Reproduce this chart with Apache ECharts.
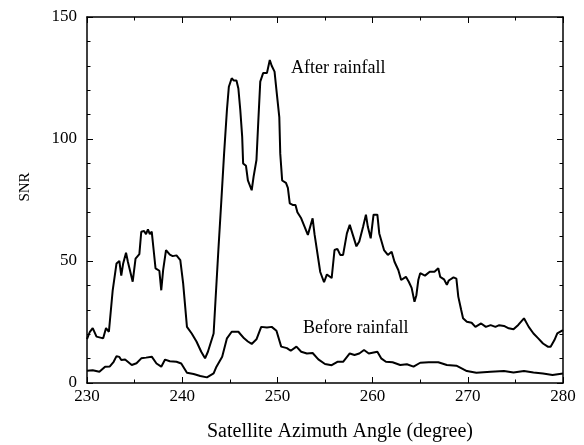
<!DOCTYPE html>
<html>
<head>
<meta charset="utf-8">
<script src="https://cdn.jsdelivr.net/npm/echarts@6/dist/echarts.min.js"></script>
<style>html,body{margin:0;padding:0;background:#fff}#c{width:584px;height:445px}</style>
</head>
<body>
<div id="c"></div>
<script>
const xTicks = [230, 240, 250, 260, 270, 280];
const yTicks = [0, 50, 100, 150];

const afterX = [230.0,230.3,230.6,231.0,231.7,232.0,232.3,232.7,233.1,233.4,233.6,233.8,234.1,234.3,234.8,235.1,235.5,235.7,236.0,236.2,236.4,236.6,236.8,237.0,237.2,237.6,237.8,238.0,238.3,238.4,238.7,239.0,239.4,239.8,240.1,240.5,241.0,241.5,242.0,242.4,242.7,243.3,243.5,243.8,244.1,244.4,244.7,244.9,245.2,245.4,245.7,245.9,246.1,246.3,246.4,246.7,246.9,247.1,247.3,247.5,247.8,248.0,248.2,248.5,248.9,249.2,249.4,249.7,249.9,250.2,250.3,250.5,250.9,251.1,251.3,251.6,251.9,252.1,252.5,253.2,253.7,253.9,254.5,254.9,255.2,255.7,256.0,256.3,256.6,256.9,257.3,257.6,257.9,258.3,258.6,259.0,259.3,259.5,259.8,260.1,260.5,260.7,261.2,261.6,262.0,262.3,262.7,263.0,263.5,263.8,264.1,264.4,264.6,264.8,265.0,265.5,266.0,266.5,266.9,267.1,267.5,267.8,268.0,268.5,268.8,269.0,269.3,269.5,269.9,270.4,270.8,271.4,271.9,272.4,272.9,273.3,273.8,274.3,274.8,275.3,275.9,276.4,276.9,277.4,277.9,278.4,278.7,279.1,279.4,280.0];
const afterY = [18,21,22.5,19,18.3,22.5,21,38,49,50,44,49,53.4,49.6,41.5,51,52.8,62,62.3,61,63,61,62,54.5,47,46,38,46.4,54.5,55.3,52.6,52,52.3,50.4,40.8,23,20.3,17,12.8,10.1,12.8,20.3,34,54.5,74,94,112,121.4,124.9,124,124,120.7,112,101,90,89,83,83,79,84.6,91.4,107.8,123.5,127,127,132.4,130,127.6,120,109,94,83,82,80,73.6,73,73,70,67.5,60.7,67.5,61,45.5,41.3,44.5,43,54.5,55,52.5,52.5,61.3,64.8,61,56,58,64,69,64,59.3,69,69,61.3,54.5,52.5,53.8,49.7,46.3,42.2,43.5,41.5,39,33.3,36,42.2,45,44,45.6,45.6,47,43.5,42.5,40.2,42,43.3,42.8,35.4,30,26.5,25.1,24.7,23,24.4,23,23.7,23,23.7,23.4,22.4,22,23.8,26.5,23,20.3,18.3,16.2,14.9,14.9,17.6,20.3,21.7];

const beforeX = [230.0,230.6,231.3,231.9,232.4,232.8,233.1,233.4,233.6,234.0,234.7,235.2,235.7,236.2,236.8,237.3,237.8,238.2,238.7,239.4,239.9,240.5,241.2,241.9,242.6,243.3,243.6,244.2,244.7,245.2,245.9,246.5,246.9,247.3,247.8,248.3,248.9,249.4,249.9,250.4,251.0,251.4,252.0,252.5,253.1,253.7,254.3,255.0,255.7,256.3,256.9,257.6,258.1,258.6,259.1,259.6,260.5,260.9,261.4,262.1,262.9,263.6,264.3,265.0,265.9,266.9,267.8,268.8,269.9,270.9,272.4,273.8,274.8,275.9,276.9,277.9,278.9,280.0];
const beforeY = [5.0,5.2,4.6,6.7,6.8,8.7,11,10.7,9.4,9.6,7.4,8.1,10.1,10.4,10.8,8.0,6.7,9.6,8.9,8.7,8.0,4.2,3.7,2.9,2.3,3.9,6.7,10.8,18.3,21,21,18.3,17,16,17.9,23,22.7,23,21.4,14.9,14.3,13.2,14.9,12.8,12.1,12.3,9.7,7.8,7.3,8.7,8.7,12.1,11.5,12.1,13.5,12.1,12.8,10.1,8.7,8.5,7.4,7.7,6.7,8.3,8.5,8.5,7.4,7.1,4.9,4.2,4.6,4.9,4.3,4.9,4.3,3.9,3.3,3.9];

const seriesNames = ['After rainfall', 'Before rainfall'];
const xTitle = 'Satellite Azimuth Angle (degree)';
const yTitle = 'SNR';

const FONT = '"Liberation Serif", "Times New Roman", serif';
const chart = echarts.init(document.getElementById('c'), null, {renderer: 'canvas'});

const axisCommon = {
  type: 'value',
  axisLine: {show: true, onZero: false, lineStyle: {color: '#000', width: 1.5}},
  axisTick: {show: true, inside: true, length: 6, lineStyle: {color: '#000', width: 1}},
  minorTick: {show: true, length: 3.5, lineStyle: {color: '#000', width: 1}},
  splitLine: {show: false},
  minorSplitLine: {show: false}
};

const xBase = {...axisCommon, min: xTicks[0], max: xTicks[xTicks.length-1], interval: 10,
  minorTick: {...axisCommon.minorTick, splitNumber: 2}};
const yBase = {...axisCommon, min: yTicks[0], max: yTicks[yTicks.length-1], interval: 50,
  minorTick: {...axisCommon.minorTick, splitNumber: 5}};

chart.setOption({
  animation: false,
  backgroundColor: '#fff',
  grid: {left: 87, top: 17, right: 21, bottom: 62, containLabel: false},
  xAxis: [
    {...xBase, position: 'bottom',
      axisLabel: {color: '#000', fontFamily: FONT, fontSize: 17, margin: 5}},
    {...xBase, position: 'top', axisLabel: {show: false}}
  ],
  yAxis: [
    {...yBase, position: 'left',
      axisLabel: {color: '#000', fontFamily: FONT, fontSize: 17, margin: 10}},
    {...yBase, position: 'right', axisLabel: {show: false}}
  ],
  series: [
    {name: seriesNames[0], type: 'line', showSymbol: false, symbol: 'none',
      data: afterX.map((x, i) => [x, afterY[i]]),
      lineStyle: {color: '#000', width: 2}},
    {name: seriesNames[1], type: 'line', showSymbol: false, symbol: 'none',
      data: beforeX.map((x, i) => [x, beforeY[i]]),
      lineStyle: {color: '#000', width: 2}}
  ],
  graphic: [
    {type: 'text', x: 291, y: 68, style: {text: seriesNames[0], fill: '#000', font: '18px ' + FONT, verticalAlign: 'middle'}},
    {type: 'text', x: 303, y: 328, style: {text: seriesNames[1], fill: '#000', font: '18px ' + FONT, verticalAlign: 'middle'}},
    {type: 'text', x: 340, y: 432, style: {text: xTitle, fill: '#000', font: '20px ' + FONT, align: 'center', verticalAlign: 'middle'}},
    {type: 'text', x: 25, y: 187, rotation: Math.PI / 2, style: {text: yTitle, fill: '#000', font: '15px ' + FONT, align: 'center', verticalAlign: 'middle'}}
  ]
});
</script>
</body>
</html>
